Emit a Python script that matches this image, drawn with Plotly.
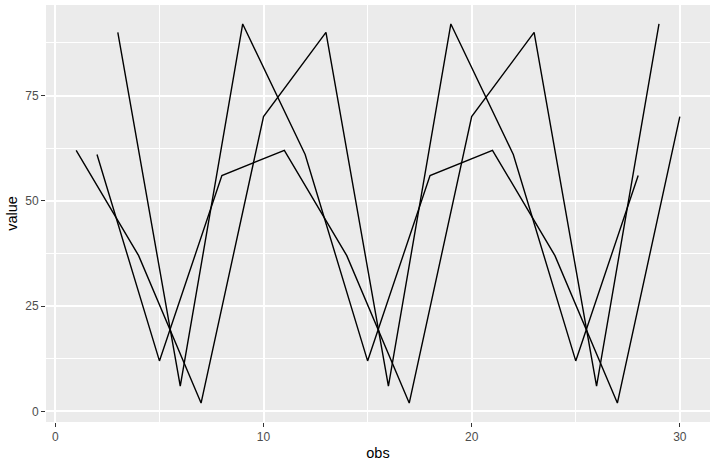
import plotly.graph_objects as go

obs = list(range(1, 31))
values = [62, 61, 90, 37, 12, 6, 2, 56, 92, 70,
          62, 61, 90, 37, 12, 6, 2, 56, 92, 70,
          62, 61, 90, 37, 12, 6, 2, 56, 92, 70]
groups = [(o - 1) % 3 for o in obs]

x_ticks = [0, 10, 20, 30]
y_ticks = [0, 25, 50, 75]

fig = go.Figure()
for g in range(3):
    xs = [o for o, gg in zip(obs, groups) if gg == g]
    ys = [v for v, gg in zip(values, groups) if gg == g]
    fig.add_trace(go.Scatter(x=xs, y=ys, mode="lines",
                             line=dict(color="black", width=1.4),
                             showlegend=False, hoverinfo="skip"))

font = "Liberation Sans, Arial, sans-serif"
axis_common = dict(
    showgrid=True, gridcolor="white", gridwidth=1.6,
    zeroline=False, showline=False, automargin=False,
    ticks="outside", ticklen=4, tickwidth=1.1, tickcolor="#333333",
    tickfont=dict(family=font, size=12, color="#4d4d4d"),
    title_font=dict(family=font, size=14.5, color="black"),
    minor=dict(showgrid=True, gridcolor="white", gridwidth=0.8),
)
fig.update_xaxes(axis_common, range=[-0.45, 31.45], tickvals=x_ticks,
                 title_text="obs", title_standoff=4,
                 minor_tickvals=[5, 15, 25])
fig.update_yaxes(axis_common, range=[-2.5, 96.5], tickvals=y_ticks,
                 title_text="value", title_standoff=4,
                 minor_tickvals=[12.5, 37.5, 62.5, 87.5])

fig.update_layout(
    width=716, height=468,
    margin=dict(l=46, r=6, t=5, b=46),
    plot_bgcolor="#ebebeb", paper_bgcolor="white",
    font=dict(family=font),
)
fig.write_html("out.html", config={"displayModeBar": False},
               post_script="document.body.style.margin='0';")
